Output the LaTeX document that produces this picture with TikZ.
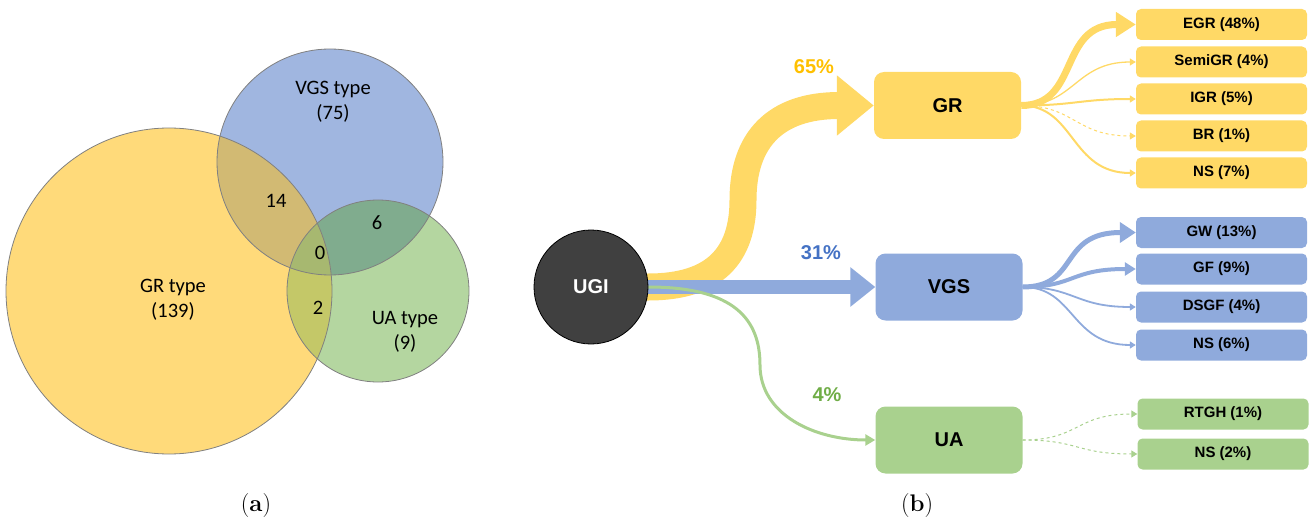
\documentclass[tikz,border=0pt]{standalone}
\usepackage{fontspec}
\newfontfamily\arialf{Liberation Sans}
\newfontfamily\calf{Carlito}
\usetikzlibrary{arrows.meta,backgrounds}
\definecolor{ylw}{HTML}{FFD966}
\definecolor{blu}{HTML}{8FAADC}
\definecolor{grn}{HTML}{A9D18E}
\definecolor{vy}{HTML}{FFDA7A}
\definecolor{vb}{HTML}{A0B6E0}
\definecolor{vg}{HTML}{B4D6A0}
\definecolor{vyb}{HTML}{D2BA73}
\definecolor{vbg}{HTML}{80AC8E}
\definecolor{vyg}{HTML}{C4C868}
\definecolor{vybg}{HTML}{A7B870}
\definecolor{pcy}{HTML}{FFC000}
\definecolor{pcb}{HTML}{4472C4}
\definecolor{pcg}{HTML}{70AD47}
\definecolor{ugif}{HTML}{404040}
\begin{document}
\begin{tikzpicture}[x=1pt,y=-1pt,
  vlab/.style={font=\calf\fontsize{20.5}{25}\selectfont, align=center, text=black, inner sep=0},
  caplab/.style={font=\fontsize{24}{27}\selectfont, inner sep=0},
  bigbox/.style={rounded corners=10pt, minimum width=147pt, minimum height=67pt, inner sep=0, font=\arialf\bfseries\fontsize{20}{24}\selectfont},
  subbox/.style={rounded corners=5pt, minimum width=171pt, minimum height=31pt, inner sep=0, font=\arialf\bfseries\fontsize{15}{18}\selectfont},
  pct/.style={font=\arialf\bfseries\fontsize{20}{24}\selectfont, inner sep=0},
  thinhead/.style={-{Triangle[width=7pt,length=6pt]}},
]
\useasboundingbox (0,0) rectangle (1310,524);
% ---------- Venn (a) ----------
\fill[vy] (169,291) circle[radius=163];
\fill[vb] (330,162) circle[radius=113];
\fill[vg] (378,291) circle[radius=91];
\begin{scope}
  \clip (330,162) circle[radius=113];
  \fill[vbg] (378,291) circle[radius=91];
\end{scope}
\begin{scope}
  \clip (169,291) circle[radius=163];
  \fill[vyb] (330,162) circle[radius=113];
  \fill[vyg] (378,291) circle[radius=91];
  \clip (330,162) circle[radius=113];
  \fill[vybg] (378,291) circle[radius=91];
\end{scope}
\draw[black!50, line width=0.8pt] (169,291) circle[radius=163];
\draw[black!50, line width=0.8pt] (330,162) circle[radius=113];
\draw[black!50, line width=0.8pt] (378,291) circle[radius=91];
\node[vlab] (lvgs) at (333,102) {VGS type\\(75)};
\node[vlab] (lgr) at (173,300) {GR type\\(139)};
\node[vlab] (lua) at (405,332) {UA type\\(9)};
\node[vlab] (n14) at (276,201) {14};
\node[vlab] (n6) at (377,223) {6};
\node[vlab] (n0) at (320,253) {0};
\node[vlab] (n2) at (318,308) {2};
\node[caplab] (capa) at (256,506) {(\textbf{a})};
\node[caplab] (capb) at (917,506) {(\textbf{b})};
% ---------- Flow (b) ----------
\node[circle, minimum size=114pt, inner sep=0, fill=ugif, draw=black, line width=0.8pt,
      text=white, font=\arialf\bfseries\fontsize{20}{24}\selectfont] (ugi) at (591,287) {UGI};
\node[bigbox, fill=ylw] (gr) at (947.5,105.5) {GR};
\node[bigbox, fill=blu] (vgs) at (949,287) {VGS};
\node[bigbox, fill=grn] (ua) at (949,440) {UA};
\node[pct, text=pcy] (p65) at (814,67) {65\%};
\node[pct, text=pcb] (p31) at (821,253) {31\%};
\node[pct, text=pcg] (p4) at (827,395) {4\%};
\node[subbox, fill=ylw] (egr) at (1221.5,24.5) {EGR (48\%)};
\node[subbox, fill=ylw] (semigr) at (1221.5,62) {SemiGR (4\%)};
\node[subbox, fill=ylw] (igr) at (1221.5,99) {IGR (5\%)};
\node[subbox, fill=ylw] (br) at (1221.5,136) {BR (1\%)};
\node[subbox, fill=ylw] (nsy) at (1221.5,173) {NS (7\%)};
\node[subbox, fill=blu] (gw) at (1221.5,232.5) {GW (13\%)};
\node[subbox, fill=blu] (gf) at (1221.5,269) {GF (9\%)};
\node[subbox, fill=blu] (dsgf) at (1221.5,307) {DSGF (4\%)};
\node[subbox, fill=blu] (nsb) at (1221.5,345) {NS (6\%)};
\node[subbox, fill=grn] (rtgh) at (1223,414) {RTGH (1\%)};
\node[subbox, fill=grn] (nsg) at (1223,454) {NS (2\%)};
\begin{scope}[on background layer]
  % main flows
  \draw[ylw, line width=27pt, -{Triangle[width=58pt,length=37pt]}]
    (ugi.center) -- (ugi.east) .. controls (715,287) and (743,255) .. (743,200)
    .. controls (743,140) and (775,105.5) .. (gr.west);
  \draw[blu, line width=14pt, -{Triangle[width=38pt,length=25pt]}] (ugi.center) -- (vgs.west);
  \draw[grn, line width=3pt, -{Triangle[width=11pt,length=10pt]}]
    (ugi.center) -- (ugi.east) .. controls (735,287) and (760,320) .. (760,365)
    .. controls (760,415) and (815,440) .. (ua.west);
  % GR fan
  \draw[ylw, line width=7pt, -{Triangle[width=24pt,length=20pt]}]
    (gr.east) .. controls (1080,105.5) and (1058,24.5) .. (egr.west);
  \draw[ylw, line width=1.3pt, thinhead]
    (gr.east) .. controls (1075,105.5) and (1075,62) .. (semigr.west);
  \draw[ylw, line width=2pt, thinhead]
    (gr.east) .. controls (1075,105.5) and (1080,99) .. (igr.west);
  \draw[ylw, line width=1pt, dashed, thinhead]
    (gr.east) .. controls (1075,105.5) and (1075,136) .. (br.west);
  \draw[ylw, line width=2pt, thinhead]
    (gr.east) .. controls (1075,105.5) and (1070,173) .. (nsy.west);
  % VGS fan
  \draw[blu, line width=5pt, -{Triangle[width=20pt,length=16pt]}]
    (vgs.east) .. controls (1080,287) and (1058,232.5) .. (gw.west);
  \draw[blu, line width=4pt, -{Triangle[width=13pt,length=11pt]}]
    (vgs.east) .. controls (1075,287) and (1070,269) .. (gf.west);
  \draw[blu, line width=1.8pt, thinhead]
    (vgs.east) .. controls (1075,287) and (1075,307) .. (dsgf.west);
  \draw[blu, line width=1.8pt, thinhead]
    (vgs.east) .. controls (1075,287) and (1070,345) .. (nsb.west);
  % UA fan
  \draw[grn, line width=1pt, dashed, thinhead]
    (ua.east) .. controls (1080,440) and (1075,414) .. (rtgh.west);
  \draw[grn, line width=1pt, dashed, thinhead]
    (ua.east) .. controls (1080,440) and (1075,454) .. (nsg.west);
\end{scope}
\end{tikzpicture}
\end{document}
